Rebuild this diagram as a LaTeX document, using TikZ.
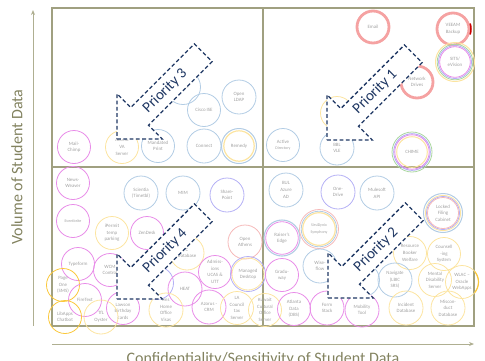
\documentclass[tikz,border=0pt]{standalone}
\usepackage{fontspec}
\setmainfont{Carlito}
\usetikzlibrary{arrows.meta}
\definecolor{frame}{RGB}{160,160,128}
\definecolor{axcol}{RGB}{175,175,145}
\definecolor{labcol}{RGB}{130,130,95}
\definecolor{txtgray}{RGB}{160,160,160}
\definecolor{cblue}{RGB}{178,204,228}
\definecolor{cmag}{RGB}{232,140,232}
\definecolor{cyel}{RGB}{252,228,160}
\definecolor{cgold}{RGB}{250,200,60}
\definecolor{cred}{RGB}{245,162,162}
\definecolor{cviol}{RGB}{180,176,245}
\definecolor{cgreen}{RGB}{170,215,160}
\definecolor{cpink}{RGB}{245,185,185}
\definecolor{navy}{RGB}{32,56,100}
\begin{document}
\begin{tikzpicture}[x=1pt,y=-1pt,
  cir/.style={circle,draw=#1,minimum size=33pt,inner sep=0pt,line width=0.8pt,
    align=center,font=\fontsize{4.9}{6.6}\selectfont,text=txtgray},
  ring/.style={draw=#1,line width=0.8pt},
  thick ring/.style={cir=cred,line width=2.8pt,minimum size=32pt},
  arrowline/.style={draw=navy,fill=white,line width=1.3pt,dash pattern=on 3.8pt off 2.5pt},
  prtext/.style={text=navy,font=\fontsize{15}{17}\selectfont,rotate=45,inner sep=0pt},
  axline/.style={draw=axcol,line width=0.9pt,-{Stealth[length=5pt,width=4pt]}},
  axlab/.style={text=labcol,font=\fontsize{16}{18}\selectfont,inner sep=0pt}
]
\useasboundingbox (0,0) rectangle (485,360);

% frame
\draw[frame,line width=1.6pt] (52,8) rectangle (474,326);
\coordinate (mt) at (263,8); \coordinate (mb) at (263,326);
\coordinate (ml) at (52,167); \coordinate (mr) at (474,167);
\draw[frame,line width=1.6pt] (mt) -- (mb);
\draw[frame,line width=1.6pt] (ml) -- (mr);

% axes
\coordinate (yb) at (33,326); \coordinate (yt) at (33,10);
\coordinate (xl) at (52,344); \coordinate (xr) at (474,344);
\draw[axline] (yb) -- (yt);
\draw[axline] (xl) -- (xr);
\node[axlab,rotate=90] (ylab) at (17,167) {Volume of Student Data};
\node[axlab,anchor=base] (xlab) at (263,363) {Confidentiality/Sensitivity of Student Data};

% ---- top-left quadrant
\node[cir=cmag] (mailchimp) at (74,147) {Mail-\\Chimp};
\node[cir=cyel] (vaserver) at (122,147) {Access\\VA\\Server};
\node[cir=cblue] (mandprint) at (158,146) {Mandated\\Print};
\node[cir=cblue,minimum size=35pt] (zoom) at (183,87) {Zoom};
\node[cir=cblue] (ciscoise) at (204,110) {Cisco ISE};
\node[cir=cblue,minimum size=34pt] (openldap) at (239,97) {Open\\LDAP};
\node[cir=cblue,minimum size=34pt] (connect) at (204,146) {Connect};
\node[cir=cblue,minimum size=35pt,line width=1pt] (remedy) at (239,146) {Remedy};
\draw[ring=cyel,line width=1.2pt] (remedy.center) circle (15.2pt);

% ---- top-right quadrant
\node[thick ring] (email) at (373,27) {Email};
\node[thick ring] (veeam) at (453,29) {VEEAM\\Backup};
\draw[red!80!black,line width=1.5pt] ([shift={(-18:18pt)}]veeam.center) arc[start angle=-18,end angle=18,radius=18pt];
\node[cir=cyel,minimum size=39pt,line width=1pt] (sits) at (455,62) {SITS/\\eVision};
\draw[ring=cgreen] (sits.center) circle (17.8pt);
\draw[ring=cviol] (sits.center) circle (16.5pt);
\draw[ring=cmag] (sits.center) circle (15.3pt);
\node[thick ring] (netdrives) at (417,82) {Network\\Drives};
\node[cir=cyel] (hiddeny) at (337,113) {};
\node[cir=cblue] (activedir) at (283,145) {Active\\{\fontsize{4}{5}\selectfont Directory}};
\node[cir=cblue,minimum size=34pt] (bblvle) at (337,148) {BBL\\VLE};
\node[cir=cgreen,minimum size=40pt] (chime) at (412,152) {CHIME};
\draw[ring=cviol,line width=1pt] (chime.center) circle (18.3pt);
\draw[ring=cmag] (chime.center) circle (17.2pt);
\draw[ring=cyel,line width=1pt] (chime.center) circle (15.3pt);

% ---- bottom-left quadrant
\node[cir=cmag] (newsweaver) at (73,183) {News-\\Weaver};
\node[cir=cmag] (eventbrite) at (73,221) {{\fontsize{4}{5}\selectfont Eventbrite}};
\node[cir=cblue,minimum size=34pt] (scientia) at (141,193) {Scientia\\(Timetbl)};
\node[cir=cblue,minimum size=34pt] (mim) at (183,193) {MIM};
\node[cir=cviol,minimum size=34pt] (sharepoint) at (227,195) {Share-\\Point};
\node[cir=cyel] (ipermit) at (112,233) {iPermit\\temp\\parking};
\node[cir=cmag] (zendesk) at (147,233) {ZenDesk};
\node[cir=cyel,minimum size=34pt] (cdatabase) at (187,253) {C\\Database};
\node[cir=cpink,minimum size=34pt] (openathens) at (245,242) {Open\\Athens};
\node[cir=cmag] (typeform) at (78,264) {Typeform};
\node[cir=cmag] (wcm) at (110,270) {WCM\\Control};
\node[cir=cviol] (hiddenv) at (157,283) {};
\node[cir=cmag] (admissions) at (215,272) {Admiss-\\ions\\UCAS \&\\UTT};
\node[cir=cviol,minimum size=35pt] (manageddesk) at (248,274) {Managed\\Desktop};
\draw[ring=cyel] (manageddesk.center) circle (16pt);
\node[cir=cgold] (pageone) at (63,285) {Page\\One\\(SMS)};
\node[cir=cmag,minimum size=34pt] (heat) at (185,289) {HEAT};
\node[cir=cmag] (firetext) at (85,300) {FireText};
\node[cir=cmag] (lawson) at (123,308) {J\\Lawson\\Birthday\\cards};
\node[cir=cyel,minimum size=34pt] (visas) at (166,310) {Ims\\Home\\Office\\Visas};
\node[cir=cmag,minimum size=34pt] (azorus) at (209,307) {Azorus -\\CRM};
\node[cir=cyel] (lacouncil) at (237,308) {LA\\Council\\tax\\Server};
\node[cir=cgold] (libapps) at (65,317) {LibApps\\Chatbot};
\node[cir=cyel,minimum size=34pt] (tfl) at (101,317) {TfL\\Oyster};

% ---- bottom-right quadrant
\node[cir=cblue,minimum size=34pt] (bulazure) at (286,190) {BUL\\Azure\\AD};
\node[cir=cviol,minimum size=34pt] (onedrive) at (338,192) {One-\\Drive};
\node[cir=cblue,minimum size=34pt] (mulesoft) at (377,193) {Mulesoft\\API};
\node[cir=cblue,minimum size=39pt,line width=1pt] (locked) at (443,213) {Locked\\Filing\\Cabinet};
\draw[ring=cyel] (locked.center) circle (17.6pt);
\draw[ring=cviol] (locked.center) circle (16.5pt);
\draw[ring=cpink] (locked.center) circle (15.5pt);
\node[cir=cblue,minimum size=36pt,line width=1.1pt] (raisers) at (282,238) {Raiser's\\Edge};
\draw[ring=cmag] (raisers.center) circle (16.3pt);
\node[cir=cpink,minimum size=39pt] (sirsi) at (319,229) {{\fontsize{4}{5.5}\selectfont SirsiDynix}\\{\fontsize{4}{5.5}\selectfont Symphony}};
\draw[ring=cblue] (sirsi.center) circle (17.8pt);
\draw[ring=cyel,line width=1.2pt] (sirsi.center) circle (16.3pt);
\node[cir=cblue,minimum size=34pt] (wiseflow) at (320,266) {Wise-\\flow};
\node[cir=cmag] (graduway) at (282,275) {Gradu-\\way};
\node[cir=cyel] (resource) at (410,253) {Resource\\Booker\\Welfare};
\node[cir=cyel] (counselling) at (444,254) {Counsell\\-ing\\System};
\node[cir=cblue] (hiddenb) at (363,280) {};
\node[cir=cblue,minimum size=34pt] (navigate) at (395,280) {Navigate\\(LBIC\\SRS)};
\node[cir=cyel] (mental) at (435,280) {Mental\\Disability\\Server};
\node[cir=cyel] (wlac) at (462,282) {WLAC –\\Oracle\\WebApps};
\draw[cgold,line width=1.2pt] ([shift={(-40:16.5pt)}]wlac.center) arc[start angle=-40,end angle=40,radius=16.5pt];
\node[cir=cyel] (kuwait) at (265,310) {Kuwait\\Cultural\\Office\\Server};
\node[cir=cmag] (atlanta) at (294,309) {Atlanta\\Data\\(DBS)};
\node[cir=cmag,minimum size=34pt] (formstack) at (327,308) {Form\\Stack};
\node[cir=cmag,minimum size=34pt] (mobility) at (362,310) {Mobility\\Tool};
\node[cir=cyel,minimum size=34pt] (incident) at (406,308) {Incident\\Database};
\node[cir=cyel,minimum size=34pt] (misconduct) at (448,308) {Miscon-\\duct\\Database};

% ---- priority arrows
\begin{scope}[shift={(117,139)},rotate=45]
\draw[arrowline] (0,0) -- (32,32) -- (32,12.5) -- (122,12.5) -- (122,-12.5) -- (32,-12.5) -- (32,-32) -- cycle;
\node[prtext] (p3) at (68,0) {Priority 3};
\end{scope}
\begin{scope}[shift={(327,140)},rotate=45]
\draw[arrowline] (0,0) -- (32,32) -- (32,12.5) -- (122,12.5) -- (122,-12.5) -- (32,-12.5) -- (32,-32) -- cycle;
\node[prtext] (p1) at (68,0) {Priority 1};
\end{scope}
\begin{scope}[shift={(117,299)},rotate=45]
\draw[arrowline] (0,0) -- (32,32) -- (32,12.5) -- (122,12.5) -- (122,-12.5) -- (32,-12.5) -- (32,-32) -- cycle;
\node[prtext] (p4) at (68,0) {Priority 4};
\end{scope}
\begin{scope}[shift={(328,298)},rotate=45]
\draw[arrowline] (0,0) -- (32,32) -- (32,12.5) -- (122,12.5) -- (122,-12.5) -- (32,-12.5) -- (32,-32) -- cycle;
\node[prtext] (p2) at (68,0) {Priority 2};
\end{scope}
\end{tikzpicture}
\end{document}
